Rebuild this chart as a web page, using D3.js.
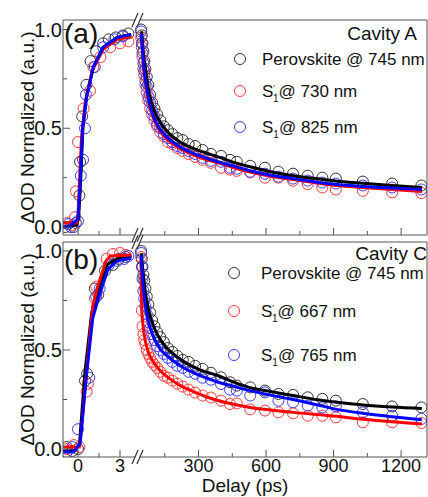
<!DOCTYPE html>
<html>
<head>
<meta charset="utf-8">
<script src="https://cdn.jsdelivr.net/npm/d3@7"></script>
<style>
body { margin: 0; background: #fff; }
text { font-family: "Liberation Sans", Arial, sans-serif; fill: #111; }
</style>
</head>
<body>
<svg></svg>
<script>
// ---- data ----
// rise part, delay in ps, [t, value]
const aBlackRise = [[-0.9,0.0],[-0.5,0.0],[-0.15,0.02],[0.1,0.16],[0.15,0.33],[0.3,0.56],[0.6,0.72],[0.9,0.84],[1.3,0.89],[1.8,0.93],[2.2,0.95],[2.7,0.96],[3.2,0.97],[3.6,0.98]];
const aRedRise = [[-0.8,0.02],[-0.4,0.01],[-0.21,0.05],[-0.14,0.18],[0.0,0.43],[0.4,0.6],[0.86,0.69],[1.1,0.81],[1.6,0.86],[2.3,0.91],[3.0,0.93],[3.6,0.94]];
const aBlueRise = [[-0.7,0.015],[-0.3,0.0],[0.0,0.03],[0.2,0.26],[0.36,0.34],[0.5,0.5],[0.57,0.67],[1.2,0.81],[1.8,0.91],[2.6,0.95],[3.2,0.965]];
const bBlackRise = [[-0.8,0.01],[-0.4,-0.01],[0.0,0.0],[0.5,0.345],[0.65,0.38],[1.2,0.81],[1.45,0.78],[1.93,0.9],[2.5,0.93],[2.9,0.96],[3.4,0.97]];
const bRedRise = [[-0.8,0.0],[-0.3,0.02],[0.1,0.01],[0.62,0.29],[0.7,0.33],[1.21,0.76],[1.3,0.82],[2.05,0.96],[2.5,0.985],[3.0,0.99],[3.4,0.98]];
const bBlueRise = [[-0.8,-0.015],[-0.4,0.01],[0.0,0.1],[0.8,0.36],[1.3,0.77],[1.55,0.81],[2.2,0.93],[2.8,0.95],[3.3,0.96],[3.6,0.975]];

// decay part, shared delays (ps)
const decayT = [45, 48, 51, 55, 59, 64, 70, 77, 85, 94, 104, 116, 130, 146, 164, 184, 206, 230, 256, 285, 318, 355, 400, 440, 470, 530, 595, 655, 720, 785, 850, 910, 1030, 1160, 1290];
const aBlackDecay = [1.00, 0.97, 0.93, 0.89, 0.84, 0.80, 0.76, 0.72, 0.67, 0.63, 0.60, 0.57, 0.54, 0.51, 0.49, 0.47, 0.45, 0.44, 0.42, 0.41, 0.39, 0.37, 0.36, 0.34, 0.33, 0.31, 0.30, 0.28, 0.27, 0.26, 0.25, 0.245, 0.23, 0.22, 0.21];
const aRedDecay = [0.96, 0.91, 0.86, 0.80, 0.77, 0.72, 0.68, 0.64, 0.60, 0.57, 0.54, 0.51, 0.48, 0.46, 0.43, 0.42, 0.40, 0.385, 0.37, 0.355, 0.34, 0.325, 0.30, 0.29, 0.284, 0.276, 0.25, 0.25, 0.234, 0.217, 0.20, 0.19, 0.183, 0.175, 0.172];
const aBlueDecay = [0.99, 0.93, 0.88, 0.83, 0.79, 0.74, 0.71, 0.66, 0.63, 0.59, 0.56, 0.52, 0.50, 0.47, 0.45, 0.43, 0.41, 0.40, 0.385, 0.37, 0.35, 0.335, 0.33, 0.30, 0.295, 0.28, 0.27, 0.255, 0.245, 0.235, 0.225, 0.22, 0.21, 0.20, 0.19];
const bBlackDecay = [1.0, 0.96, 0.92, 0.88, 0.85, 0.81, 0.77, 0.73, 0.69, 0.65, 0.62, 0.59, 0.565, 0.54, 0.51, 0.49, 0.47, 0.45, 0.44, 0.42, 0.405, 0.385, 0.362, 0.337, 0.32, 0.311, 0.295, 0.278, 0.273, 0.261, 0.253, 0.244, 0.227, 0.215, 0.21];
const bRedDecay = [0.97, 0.70, 0.62, 0.58, 0.55, 0.53, 0.50, 0.48, 0.46, 0.44, 0.425, 0.41, 0.39, 0.37, 0.36, 0.345, 0.33, 0.315, 0.30, 0.285, 0.27, 0.26, 0.244, 0.227, 0.23, 0.20, 0.194, 0.185, 0.18, 0.168, 0.168, 0.16, 0.135, 0.135, 0.131];
const bBlueDecay = [0.99, 0.92, 0.86, 0.80, 0.76, 0.72, 0.68, 0.64, 0.61, 0.58, 0.55, 0.52, 0.50, 0.48, 0.46, 0.44, 0.42, 0.41, 0.39, 0.38, 0.36, 0.35, 0.328, 0.30, 0.295, 0.27, 0.286, 0.244, 0.236, 0.219, 0.21, 0.215, 0.185, 0.168, 0.152];

// fit curves
const aBlackFitRise = [[-1.1,0.0],[-0.1,0.01],[0.05,0.05],[0.2,0.25],[0.35,0.5],[0.6,0.66],[1.1,0.81],[1.8,0.91],[2.8,0.96],[3.8,0.975]];
const aRedFitRise = [[-1.1,0.02],[-0.1,0.02],[0.0,0.06],[0.25,0.45],[0.5,0.62],[1.0,0.79],[1.8,0.9],[2.8,0.95],[3.8,0.965]];
const aBlueFitRise = [[-1.1,0.0],[-0.6,0.005],[0.0,0.04],[0.14,0.21],[0.33,0.5],[0.62,0.66],[1.1,0.81],[1.8,0.91],[2.8,0.96],[3.8,0.975]];
const bBlackFitRise = [[-1.1,-0.01],[-0.3,-0.01],[0.1,0.02],[0.5,0.39],[0.98,0.69],[1.33,0.77],[2.05,0.93],[2.76,0.96],[3.8,0.975]];
const bRedFitRise = [[-1.1,0.01],[0.1,0.01],[0.2,0.06],[0.6,0.38],[1.05,0.72],[1.4,0.82],[2.0,0.95],[2.3,0.975],[3.8,0.98]];
const bBlueFitRise = [[-1.1,-0.015],[-0.3,-0.015],[0.15,0.03],[0.6,0.37],[1.05,0.66],[1.45,0.76],[2.15,0.91],[2.8,0.95],[3.8,0.965]];

const aBlackFitDecay = [[47,0.99],[52,0.92],[57,0.86],[62,0.82],[70,0.75],[84,0.66],[100,0.6],[129,0.53],[160,0.485],[218,0.43],[307,0.385],[387,0.355],[450,0.33],[529,0.305],[620,0.28],[720,0.26],[820,0.245],[916,0.232],[1031,0.222],[1160,0.21],[1293,0.2]];
const aRedFitDecay = [[45,0.97],[50,0.9],[55,0.82],[62,0.745],[70,0.685],[84,0.61],[100,0.55],[129,0.485],[160,0.445],[218,0.397],[307,0.352],[387,0.325],[450,0.303],[529,0.278],[620,0.257],[720,0.24],[820,0.224],[916,0.21],[1031,0.2],[1160,0.19],[1293,0.18]];
const aBlueFitDecay = [[45,0.98],[50,0.91],[55,0.84],[62,0.76],[70,0.7],[84,0.62],[100,0.56],[129,0.495],[160,0.455],[218,0.405],[307,0.36],[387,0.33],[450,0.31],[529,0.285],[620,0.262],[720,0.245],[820,0.228],[916,0.215],[1031,0.205],[1160,0.197],[1293,0.19]];
const bBlackFitDecay = [[47,0.985],[52,0.91],[57,0.86],[62,0.81],[70,0.75],[84,0.675],[100,0.62],[129,0.555],[160,0.51],[218,0.455],[307,0.4],[388,0.37],[450,0.34],[529,0.31],[620,0.29],[720,0.27],[820,0.25],[914,0.236],[1031,0.222],[1160,0.212],[1292,0.205]];
const bRedFitDecay = [[44,0.96],[46,0.8],[48,0.7],[52,0.64],[62,0.555],[80,0.48],[99,0.44],[130,0.395],[173,0.354],[220,0.32],[277,0.29],[370,0.25],[450,0.227],[529,0.21],[620,0.197],[720,0.185],[914,0.165],[1031,0.15],[1160,0.138],[1292,0.126]];
const bBlueFitDecay = [[45,0.98],[50,0.88],[55,0.81],[62,0.74],[70,0.685],[77,0.645],[100,0.565],[129,0.505],[160,0.47],[218,0.42],[307,0.37],[388,0.337],[450,0.318],[529,0.295],[620,0.272],[720,0.25],[820,0.225],[914,0.2],[1031,0.18],[1160,0.163],[1292,0.148]];

const yTicksMajor = [0, 0.5, 1];
const yTicksMinor = [0.25, 0.75];
const leftTicksMajor = [0, 3];
const leftTicksMinor = [1.5];
const rightTicksMajor = [300, 600, 900, 1200];
const rightTicksMinor = [150, 450, 750, 1050];

const legendA = [
    {color: 'black', label: 'Perovskite @ 745 nm'},
    {color: 'red', sub: '1', prime: true, label: '@ 730 nm'},
    {color: 'blue', sub: '1', prime: false, label: '@ 825 nm'}
];
const legendC = [
    {color: 'black', label: 'Perovskite @ 745 nm'},
    {color: 'red', sub: '1', prime: true, label: '@ 667 nm'},
    {color: 'blue', sub: '1', prime: false, label: '@ 765 nm'}
];

// ---- layout ----
const size = {w: 428, h: 497};
const svg = d3.select('svg').attr('width', size.w).attr('height', size.h);

const frame = {l: 63, r: 427, breakL: 135, breakR: 140};
const xLeft = d3.scaleLinear().domain([-1.07, 4.07]).range([frame.l, frame.breakL]);
const xRight = d3.scaleLinear().domain([40, 1315]).range([frame.breakR, frame.r]);

const markColor = {black: '#333', red: '#ff3b3b', blue: '#3b3bff'};
const lineColor = {black: '#000', red: '#ff0000', blue: '#0000ff'};

const panels = [
    {
        id: 'a', top: 20, bottom: 235, zeroY: 227, oneY: 29.5, tag: '(a)', tagY: 43,
        cavity: 'Cavity A', cavityX: 417, cavityY: 40,
        legend: legendA, legX: 240, legTextX: 262, legY: [59, 91, 127],
        rise: {black: aBlackRise, red: aRedRise, blue: aBlueRise},
        decay: {black: aBlackDecay, red: aRedDecay, blue: aBlueDecay},
        fitRise: {black: aBlackFitRise, red: aRedFitRise, blue: aBlueFitRise},
        fitDecay: {black: aBlackFitDecay, red: aRedFitDecay, blue: aBlueFitDecay},
        xLabels: false
    },
    {
        id: 'b', top: 242, bottom: 457, zeroY: 449, oneY: 251, tag: '(b)', tagY: 269,
        cavity: 'Cavity C', cavityX: 427, cavityY: 260,
        legend: legendC, legX: 234, legTextX: 261, legY: [273, 311, 355],
        rise: {black: bBlackRise, red: bRedRise, blue: bBlueRise},
        decay: {black: bBlackDecay, red: bRedDecay, blue: bBlueDecay},
        fitRise: {black: bBlackFitRise, red: bRedFitRise, blue: bBlueFitRise},
        fitDecay: {black: bBlackFitDecay, red: bRedFitDecay, blue: bBlueFitDecay},
        xLabels: true
    }
];

panels.forEach(drawPanel);

// x axis title
svg.append('text')
    .attr('x', 245).attr('y', 492)
    .attr('text-anchor', 'middle')
    .style('font-size', '19px')
    .text('Delay (ps)');

function drawPanel (p) {
    const y = d3.scaleLinear().domain([0, 1]).range([p.zeroY, p.oneY]);
    const g = svg.append('g').classed('panel-' + p.id, true);

    g.append('clipPath').attr('id', 'clip-' + p.id)
        .append('rect')
        .attr('x', frame.l).attr('y', p.top)
        .attr('width', frame.r - frame.l).attr('height', p.bottom - p.top);

    const plot = g.append('g').attr('clip-path', 'url(#clip-' + p.id + ')');
    const order = ['black', 'red', 'blue'];

    // data circles
    order.forEach(function (c) {
        plot.selectAll('circle.r-' + c)
            .data(p.rise[c])
            .enter().append('circle')
            .attr('class', 'r-' + c)
            .attr('cx', d => xLeft(d[0]))
            .attr('cy', d => y(d[1]))
            .attr('r', 5.5)
            .attr('fill', 'none')
            .attr('stroke', markColor[c])
            .attr('stroke-width', 1);
        plot.selectAll('circle.d-' + c)
            .data(p.decay[c])
            .enter().append('circle')
            .attr('class', 'd-' + c)
            .attr('cx', (d, i) => xRight(decayT[i]))
            .attr('cy', d => y(d))
            .attr('r', 5.5)
            .attr('fill', 'none')
            .attr('stroke', markColor[c])
            .attr('stroke-width', 1);
    });

    // fit lines
    const riseLine = d3.line().x(d => xLeft(d[0])).y(d => y(d[1]));
    const decayLine = d3.line().x(d => xRight(d[0])).y(d => y(d[1])).curve(d3.curveMonotoneX);
    order.forEach(function (c) {
        plot.append('path').datum(p.fitRise[c])
            .attr('d', riseLine)
            .attr('fill', 'none').attr('stroke', lineColor[c])
            .attr('stroke-width', 3).attr('stroke-linejoin', 'round');
        plot.append('path').datum(p.fitDecay[c])
            .attr('d', decayLine)
            .attr('fill', 'none').attr('stroke', lineColor[c])
            .attr('stroke-width', 3).attr('stroke-linejoin', 'round');
    });

    // frame with axis break
    const axisColor = '#555';
    const segs = [
        [frame.l, p.top, frame.breakL, p.top],
        [frame.breakR, p.top, frame.r, p.top],
        [frame.l, p.bottom, frame.breakL, p.bottom],
        [frame.breakR, p.bottom, frame.r, p.bottom],
        [frame.l, p.top, frame.l, p.bottom],
        [frame.r, p.top, frame.r, p.bottom]
    ];
    g.selectAll('line.frame').data(segs).enter().append('line')
        .attr('class', 'frame')
        .attr('x1', d => d[0]).attr('y1', d => d[1])
        .attr('x2', d => d[2]).attr('y2', d => d[3])
        .attr('stroke', axisColor).attr('stroke-width', 1);

    // break marks
    const bx = (frame.breakL + frame.breakR) / 2;
    [p.top, p.bottom].forEach(function (yy) {
        [-2.5, 2.5].forEach(function (off) {
            g.append('line')
                .attr('x1', bx + off - 3).attr('y1', yy + 7)
                .attr('x2', bx + off + 3).attr('y2', yy - 7)
                .attr('stroke', '#333').attr('stroke-width', 1.2);
        });
    });

    // y ticks (inward)
    yTicksMajor.forEach(function (v) {
        g.append('line').attr('x1', frame.l).attr('x2', frame.l + 7)
            .attr('y1', y(v)).attr('y2', y(v)).attr('stroke', axisColor);
        g.append('text').attr('x', frame.l - 1).attr('y', y(v))
            .attr('dy', '0.36em').attr('text-anchor', 'end')
            .style('font-size', '20px')
            .text(d3.format('.1f')(v));
    });
    yTicksMinor.forEach(function (v) {
        g.append('line').attr('x1', frame.l).attr('x2', frame.l + 4)
            .attr('y1', y(v)).attr('y2', y(v)).attr('stroke', axisColor);
    });

    // x ticks (inward)
    const xt = [];
    leftTicksMajor.forEach(t => xt.push({x: xLeft(t), len: 7, label: String(t)}));
    leftTicksMinor.forEach(t => xt.push({x: xLeft(t), len: 4}));
    rightTicksMajor.forEach(t => xt.push({x: xRight(t), len: 7, label: String(t)}));
    rightTicksMinor.forEach(t => xt.push({x: xRight(t), len: 4}));
    xt.forEach(function (d) {
        g.append('line').attr('x1', d.x).attr('x2', d.x)
            .attr('y1', p.bottom).attr('y2', p.bottom - d.len)
            .attr('stroke', axisColor);
        if (p.xLabels && d.label) {
            g.append('text').attr('x', d.x).attr('y', p.bottom + 15)
                .attr('text-anchor', 'middle')
                .style('font-size', '18px')
                .text(d.label);
        }
    });

    // y axis title
    g.append('text')
        .attr('transform', 'translate(27,' + ((p.top + p.bottom) / 2) + ') rotate(-90)')
        .attr('text-anchor', 'middle')
        .attr('dy', '0.35em')
        .style('font-size', '19px')
        .text('\u0394OD Normalized (a.u.)');

    // panel tag and cavity name
    g.append('text').attr('x', frame.l + 1).attr('y', p.tagY)
        .style('font-size', '28px').text(p.tag);
    g.append('text').attr('x', p.cavityX).attr('y', p.cavityY)
        .attr('text-anchor', 'end')
        .style('font-size', '19px').text(p.cavity);

    // legend
    p.legend.forEach(function (item, i) {
        const ly = p.legY[i];
        g.append('circle').attr('cx', p.legX).attr('cy', ly).attr('r', 5.5)
            .attr('fill', 'none').attr('stroke', markColor[item.color]);
        const t = g.append('text').attr('x', p.legTextX).attr('y', ly)
            .attr('dy', '0.36em').style('font-size', '17px');
        if (!item.sub) {
            t.text(item.label);
        } else {
            t.append('tspan').text('S');
            if (item.prime) {
                t.append('tspan').attr('dy', -6).style('font-size', '9px').text('\u2032');
                t.append('tspan').attr('dx', -2).attr('dy', 11).style('font-size', '10px').text(item.sub);
            } else {
                t.append('tspan').attr('dy', 5).style('font-size', '10px').text(item.sub);
            }
            t.append('tspan').attr('dy', -5).text(item.label);
        }
    });
}
</script>
</body>
</html>
